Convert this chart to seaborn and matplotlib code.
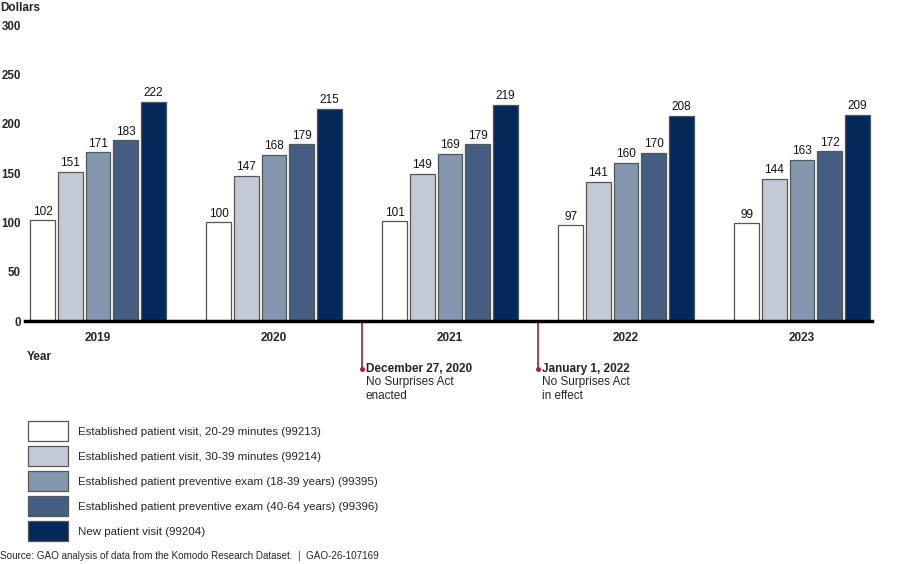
import matplotlib
matplotlib.use("Agg")
import matplotlib.pyplot as plt
import seaborn as sns
import pandas as pd
import numpy as np

years = ["2019", "2020", "2021", "2022", "2023"]
services = [
    "Established patient visit, 20-29 minutes (99213)",
    "Established patient visit, 30-39 minutes (99214)",
    "Established patient preventive exam (18-39 years) (99395)",
    "Established patient preventive exam (40-64 years) (99396)",
    "New patient visit (99204)",
]
v_99213 = [102, 100, 101, 97, 99]
v_99214 = [151, 147, 149, 141, 144]
v_99395 = [171, 168, 169, 160, 163]
v_99396 = [183, 179, 179, 170, 172]
v_99204 = [222, 215, 219, 208, 209]
colors = ["#ffffff", "#c3cad6", "#8597ae", "#445f82", "#03285a"]

# events drawn between year groups
event_pos = [1.5, 2.5]
event_date = ["December 27, 2020", "January 1, 2022"]
event_text = ["No Surprises Act\nenacted", "No Surprises Act\nin effect"]

rows = []
for s, vals in zip(services, [v_99213, v_99214, v_99395, v_99396, v_99204]):
    for y, v in zip(years, vals):
        rows.append({"year": y, "service": s, "value": v})
df = pd.DataFrame(rows)

sns.set_style("white")
plt.rcParams['font.family'] = ['Liberation Sans', 'DejaVu Sans']

fig = plt.figure(figsize=(9, 5.64), dpi=100)
ax = fig.add_axes([25 / 900, 1 - 321 / 564, 847 / 900, 296 / 564])

sns.barplot(data=df, x="year", y="value", hue="service", hue_order=services,
            palette=colors, saturation=1, width=0.785, gap=0.1,
            edgecolor="#555555", linewidth=0.9, ax=ax, legend=True)

for c in ax.containers:
    ax.bar_label(c, fmt="%d", padding=2, fontsize=8.5, color="#111111")

ax.set_ylim(0, 300)
ax.set_yticks([0, 50, 100, 150, 200, 250, 300])
ax.set_xlim(-0.415, 4.398)
ax.set_xlabel("")
ax.set_ylabel("")
for s in ["top", "right", "left"]:
    ax.spines[s].set_visible(False)
ax.spines["bottom"].set_linewidth(2.5)
ax.spines["bottom"].set_color("#000000")
ax.tick_params(axis="both", length=0, labelsize=8.5)
ax.tick_params(axis="y", pad=3, labelsize=8.3)
ax.tick_params(axis="x", pad=8)
for t in ax.get_yticklabels() + ax.get_xticklabels():
    t.set_fontweight("bold")

fig.text(0.0, 1 - 8 / 564, "Dollars", fontsize=8.5, fontweight="bold", va="center")
fig.text(27 / 900, 1 - 357 / 564, "Year", fontsize=8.5, fontweight="bold", va="center")

tr = ax.get_xaxis_transform()
y_dot = -48 / 296
for xp, d, t in zip(event_pos, event_date, event_text):
    ax.plot([xp, xp], [0, y_dot], color="#a6193c", lw=1.2, transform=tr, clip_on=False)
    ax.plot([xp], [y_dot], "o", color="#a6193c", ms=2.5, transform=tr, clip_on=False)
    ax.text(xp + 0.02, y_dot, d, transform=tr, fontsize=8.5, fontweight="bold",
            va="center", ha="left")
    ax.text(xp + 0.02, y_dot - 7 / 296, t, transform=tr, fontsize=8.5,
            va="top", ha="left", linespacing=1.2)

h, l = ax.get_legend_handles_labels()
ax.legend(h, l, loc="upper left", bbox_to_anchor=(28 / 900, 1 - 421 / 564),
          bbox_transform=fig.transFigure, frameon=False, fontsize=8.25,
          handlelength=3.49, handleheight=2.31, labelspacing=0.436,
          handletextpad=0.87, borderpad=0, borderaxespad=0)

fig.text(0.0, 1 - 556 / 564, "Source: GAO analysis of data from the Komodo Research Dataset.  |  GAO-26-107169",
         fontsize=7.1, va="center")

fig.savefig("out.png", dpi=100)
